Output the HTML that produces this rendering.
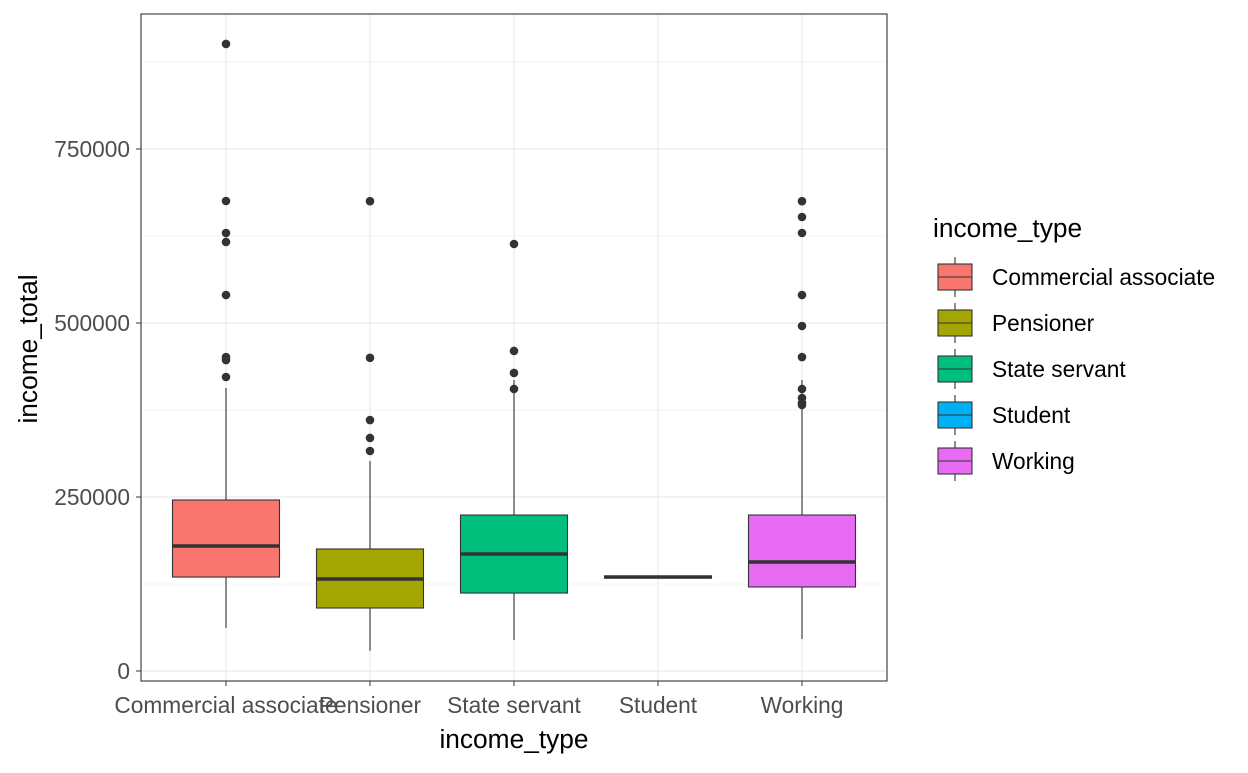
<!DOCTYPE html>
<html><head><meta charset="utf-8"><style>
body{margin:0;background:#fff;font-family:"Liberation Sans",Arial,sans-serif}
</style></head><body>
<svg id="chart" width="1248" height="768" xmlns="http://www.w3.org/2000/svg"></svg>
<script>
const categories=["Commercial associate","Pensioner","State servant","Student","Working"];
const colors=["#F8766D","#A3A500","#00BF7D","#00B0F6","#E76BF3"];
const lows=[62000,29000,44500,135000,46000];
const q1s=[135000,90500,112000,133500,120700];
const medians=[179600,132200,168100,135000,156600];
const q3s=[245700,175300,224100,136500,224100];
const highs=[406600,301700,418100,135000,418100];
const outliers=[
 [900900,675300,629300,616400,540200,451100,446800,422400],
 [675000,450000,360600,334800,316100],
 [613500,459800,428200,405200],
 [],
 [675000,652300,629300,540200,495700,451100,405200,392200,385100,382200]
];
const yTicks=[0,250000,500000,750000];
const yMinor=[125000,375000,625000,875000];
const NS="http://www.w3.org/2000/svg";
const svg=document.getElementById("chart");
const PL=141,PR=887,PT=14,PB=681;
const y=v=>671-v/250000*174;
const x=i=>226+i*144;
const bw=107;
function el(t,a,p){const e=document.createElementNS(NS,t);for(const k in a)e.setAttribute(k,a[k]);(p||svg).appendChild(e);return e;}
function txt(s,a,p){const e=el("text",a,p);e.textContent=s;return e;}
const grid=el("g",{});


yMinor.forEach(v=>el("line",{x1:PL,x2:PR,y1:y(v),y2:y(v),stroke:"#f0f0f0","stroke-width":0.7},grid));
yTicks.forEach(v=>el("line",{x1:PL,x2:PR,y1:y(v),y2:y(v),stroke:"#ebebeb","stroke-width":1.3},grid));
categories.forEach((c,i)=>el("line",{x1:x(i),x2:x(i),y1:PT,y2:PB,stroke:"#ebebeb","stroke-width":1.3},grid));
categories.forEach((c,i)=>{
 const g=el("g",{});
 
 
 el("line",{x1:x(i),x2:x(i),y1:y(q3s[i]),y2:y(highs[i]),stroke:"#333","stroke-width":1.1},g);
 el("line",{x1:x(i),x2:x(i),y1:y(q1s[i]),y2:y(lows[i]),stroke:"#333","stroke-width":1.1},g);
 el("rect",{x:x(i)-bw/2,y:y(q3s[i]),width:bw,height:Math.max(0.5,y(q1s[i])-y(q3s[i])),fill:colors[i],stroke:"#333","stroke-width":1.1},g);
 el("line",{x1:x(i)-bw/2,x2:x(i)+bw/2,y1:y(medians[i]),y2:y(medians[i]),stroke:"#333","stroke-width":3.5},g);
 outliers[i].forEach(v=>el("circle",{cx:x(i),cy:y(v),r:4.3,fill:"#333"},g));
});
el("rect",{x:PL,y:PT,width:PR-PL,height:PB-PT,fill:"none",stroke:"#333","stroke-width":1.1});
yTicks.forEach(v=>{
 el("line",{x1:PL-5,x2:PL,y1:y(v),y2:y(v),stroke:"#333"});
 const t=txt(String(v),{x:PL-11,y:y(v)+8,"text-anchor":"end","font-size":22.7,fill:"#4d4d4d"});
 
});
categories.forEach((c,i)=>{
 el("line",{x1:x(i),x2:x(i),y1:PB,y2:PB+5,stroke:"#333"});
 const t=txt(c,{x:x(i),y:713,"text-anchor":"middle","font-size":22.7,fill:"#4d4d4d"});
 
});
let t=txt("income_type",{x:514,y:748,"text-anchor":"middle","font-size":26.3,fill:"#000"});

t=txt("income_total",{x:0,y:0,transform:"translate(37,349) rotate(-90)","text-anchor":"middle","font-size":26.3,fill:"#000"});

const lg=el("g",{});

txt("income_type",{x:933,y:237,"font-size":26.3,fill:"#000"},lg);
categories.forEach((c,i)=>{
 const cy=277+i*46;
 const e=el("g",{},lg);
 
 el("line",{x1:955,x2:955,y1:cy-20,y2:cy+20,stroke:"#333","stroke-width":1.1},e);
 el("rect",{x:938,y:cy-13,width:34,height:26,fill:colors[i],stroke:"#333","stroke-width":1.1},e);
 el("line",{x1:938,x2:972,y1:cy,y2:cy,stroke:"#333","stroke-width":1.1},e);
 txt(c,{x:992,y:cy+8,"font-size":22.7,fill:"#000"},e);
});
</script>
</body></html>
